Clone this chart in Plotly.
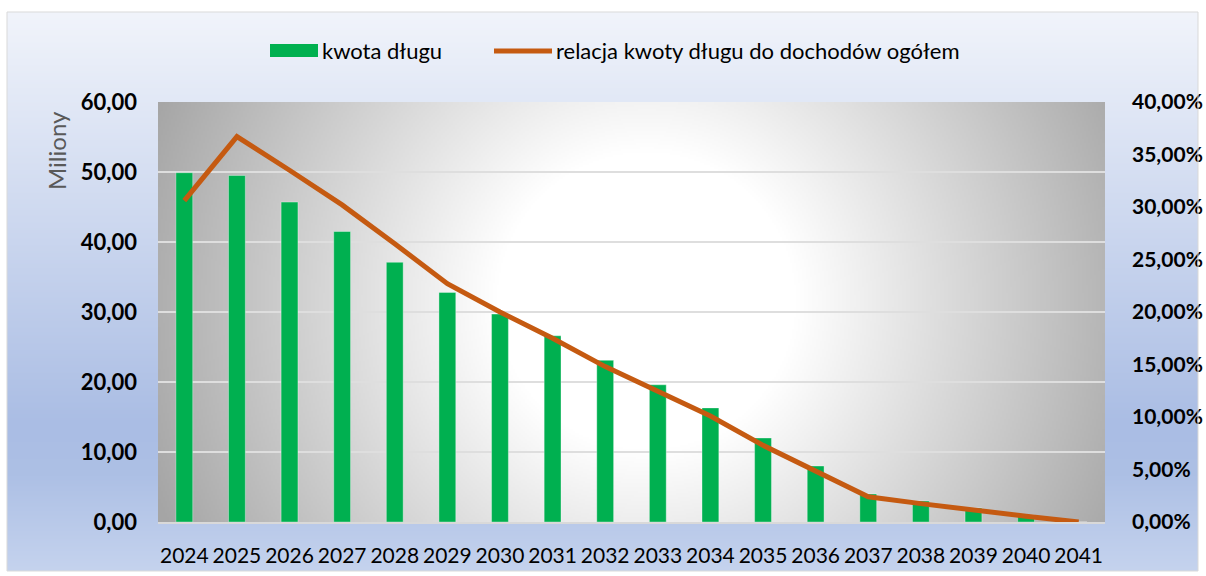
import base64
import struct
import zlib

import numpy as np
import plotly.graph_objects as go

# ---------------- data ----------------
years = ["2024", "2025", "2026", "2027", "2028", "2029", "2030", "2031", "2032",
         "2033", "2034", "2035", "2036", "2037", "2038", "2039", "2040", "2041"]
debt_mln = [49.9, 49.5, 45.7, 41.5, 37.1, 32.8, 29.7, 26.6, 23.1,
            19.6, 16.3, 12.0, 8.0, 4.0, 3.0, 2.0, 1.0, 0.0]
ratio_pct = [30.6, 36.7, 33.5, 30.2, 26.5, 22.7, 20.0, 17.5, 14.8,
             12.4, 10.1, 7.3, 4.8, 2.4, 1.75, 1.1, 0.55, 0.0]
ratio = [v / 100 for v in ratio_pct]

bar_name = "kwota długu"
line_name = "relacja kwoty długu do dochodów ogółem"
left_title = "Miliony"

# ---------------- geometry ----------------
W, H = 1206, 576
ML, MR, MT, MB = 158, 101, 102, 54
PW, PH = W - ML - MR, H - MT - MB


def px(x):
    return (x - ML) / PW


def py(y):
    return (H - MB - y) / PH


def png_uri(arr):
    arr = np.ascontiguousarray(arr.astype(np.uint8))
    h, w, _ = arr.shape
    raw = b"".join(b"\x00" + arr[i].tobytes() for i in range(h))

    def chunk(t, d):
        c = struct.pack(">I", len(d)) + t + d
        return c + struct.pack(">I", zlib.crc32(t + d) & 0xFFFFFFFF)

    png = (b"\x89PNG\r\n\x1a\n"
           + chunk(b"IHDR", struct.pack(">IIBBBBB", w, h, 8, 2, 0, 0, 0))
           + chunk(b"IDAT", zlib.compress(raw, 9))
           + chunk(b"IEND", b""))
    return "data:image/png;base64," + base64.b64encode(png).decode()


# outer (chart area) vertical gradient
FX0, FY0, FX1, FY1 = 7, 12, 1198, 571
fh = FY1 - FY0
t = np.linspace(0, 1, fh)
stops_t = [0.0, 0.74, 0.83, 1.0]
stops_c = np.array([[241, 244, 251], [170, 189, 228], [173, 192, 229], [197, 211, 238]])
col = np.stack([np.interp(t, stops_t, stops_c[:, k]) for k in range(3)], axis=1)
outer = np.repeat(col[:, None, :], 8, axis=1)

# plot-area radial gradient
sc = 2
gw, gh = PW // sc, PH // sc
xx = (np.arange(gw) * sc + ML)[None, :]
yy = (np.arange(gh) * sc + MT)[:, None]
r = np.sqrt((xx - 645.0) ** 2 + (yy - 300.0) ** 2)
f = np.clip((r - 150) / 380, 0, 1)
g = 255 - 90 * f
inner = np.stack([g, g, g], axis=2)

fig = go.Figure()

fig.add_trace(go.Bar(
    x=years, y=debt_mln, name=bar_name, yaxis="y",
    marker=dict(color="#00b050", line=dict(color="rgba(255,255,255,0.35)", width=1)),
    showlegend=False,
))
fig.add_trace(go.Scatter(
    x=years, y=ratio, name=line_name, yaxis="y2", mode="lines",
    line=dict(color="#c55a11", width=5),
    showlegend=False,
))

font_family = "Lato"

fig.update_layout(
    width=W, height=H,
    margin=dict(l=ML, r=MR, t=MT, b=MB, autoexpand=False),
    paper_bgcolor="white",
    plot_bgcolor="rgba(0,0,0,0)",
    separators=", ",
    bargap=0.68,
    showlegend=False,
    xaxis=dict(
        type="category", automargin=False,
        showgrid=False,
        showline=True, linecolor="#d9d9d9", linewidth=2,
        ticks="", ticklabelstandoff=14,
        tickfont=dict(family=font_family, size=21, color="black"),
    ),
    yaxis=dict(
        range=[0, 60], dtick=10, tickformat=".2f", automargin=False,
        showgrid=True, gridcolor="#dedede", gridwidth=2,
        zeroline=False, showline=False,
        ticks="", ticklabelstandoff=20,
        tickfont=dict(family=font_family, size=22, color="black", weight="bold"),
    ),
    yaxis2=dict(
        range=[0, 0.4], dtick=0.05, tickformat=".2%", automargin=False,
        overlaying="y", side="right",
        showgrid=False, zeroline=False, showline=False,
        ticks="", ticklabelstandoff=26,
        tickfont=dict(family=font_family, size=21, color="black", weight="bold"),
    ),
    images=[
        dict(source=png_uri(outer), xref="paper", yref="paper",
             x=px(FX0), y=py(FY0), sizex=(FX1 - FX0) / PW, sizey=(FY1 - FY0) / PH,
             xanchor="left", yanchor="top", sizing="stretch", layer="below"),
        dict(source=png_uri(inner), xref="paper", yref="paper",
             x=0, y=1, sizex=1, sizey=1,
             xanchor="left", yanchor="top", sizing="stretch", layer="below"),
    ],
    shapes=[
        dict(type="rect", xref="paper", yref="paper",
             x0=px(FX0), x1=px(FX1), y0=py(FY0), y1=py(FY1),
             line=dict(color="#d9d9d9", width=1), fillcolor="rgba(0,0,0,0)", layer="above"),
        dict(type="rect", xref="paper", yref="paper",
             x0=px(270), x1=px(318), y0=py(57), y1=py(44),
             line=dict(width=0), fillcolor="#00b050"),
        dict(type="line", xref="paper", yref="paper",
             x0=px(494), x1=px(552), y0=py(51), y1=py(51),
             line=dict(color="#c55a11", width=5)),
    ],
    annotations=[
        dict(text=bar_name, xref="paper", yref="paper", x=px(320), y=py(51),
             xanchor="left", yanchor="middle", showarrow=False,
             font=dict(family=font_family, size=22, color="black")),
        dict(text=line_name, xref="paper", yref="paper", x=px(554), y=py(51),
             xanchor="left", yanchor="middle", showarrow=False,
             font=dict(family=font_family, size=22, color="black")),
        dict(text=left_title, xref="paper", yref="paper", x=px(56), y=py(151),
             xanchor="center", yanchor="middle", showarrow=False, textangle=-90,
             font=dict(family=font_family, size=24, color="#595959")),
    ],
)

fig.write_html("out.html", config={"displayModeBar": False},
               post_script="document.body.style.margin='0';")
